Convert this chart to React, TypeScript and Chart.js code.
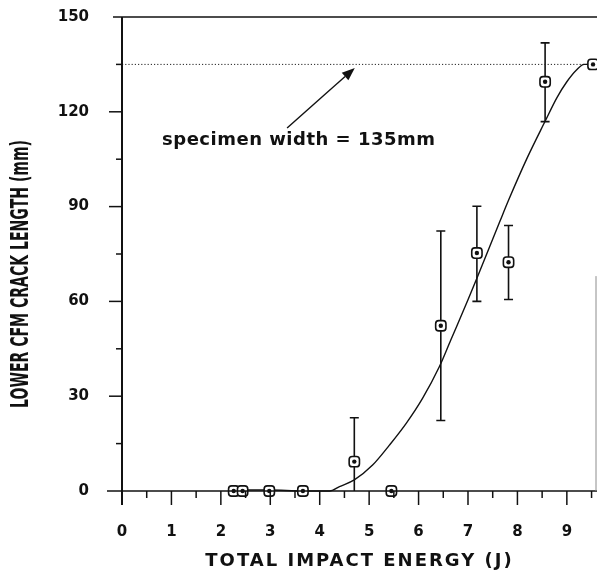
import React, { useEffect, useRef } from 'react';
import { Chart, registerables } from 'chart.js';

Chart.register(...registerables);

// Measured specimens: impact energy (J) and lower CFM crack length (mm)
const energyJ = [2.26, 2.44, 2.98, 3.66, 4.7, 5.45, 6.45, 7.18, 7.82, 8.56, 9.53];
const crackMm = [0, 0, 0, 0, 9.3, 0, 52.3, 75.3, 72.4, 129.5, 135];
// Scatter band (upper / lower limits); null where no band is drawn
const crackHigh = [null, null, null, null, 23.2, null, 82.3, 90.1, 84.0, 141.8, null];
const crackLow = [null, null, null, null, 0, null, 22.3, 60.0, 60.6, 116.9, null];

// Fitted trend curve
const fitEnergyJ = [2.26, 2.44, 2.98, 3.66, 4.2, 4.4, 4.7, 5.07, 5.41, 5.75, 6.08, 6.42, 6.65, 7.0, 7.18, 7.65, 7.82, 8.2, 8.56, 8.8, 9.0, 9.2, 9.35, 9.53];
const fitCrackMm = [0, 0.3, 0.3, 0, 0, 1.4, 3.5, 8.2, 14.5, 21.4, 29.3, 39.3, 47.7, 60.5, 67.3, 85.5, 92, 105.5, 117, 124.5, 129.5, 133.3, 135, 135];

// Specimen width reference line
const specimenWidthMm = 135;

// Axis ranges and tick spacing
const xRange = [0, 9.61];
const yRange = [0, 150];
const xStep = 0.5;
const yStep = 15;
const yLabelEvery = 30;

const X_TITLE = 'TOTAL IMPACT ENERGY (J)';
const Y_TITLE = 'LOWER CFM CRACK LENGTH (mm)';
const NOTE = 'specimen width = 135mm';
// Note and arrow anchors, in axis units
const noteAt = [0.81, 109.5];
const arrowFrom = [3.34, 114.9];
const arrowTo = [4.71, 133.9];

const INK = '#111111';
const FONT = '"DejaVu Sans", "Liberation Sans", sans-serif';

const points = energyJ.map((e, i) => ({ x: e, y: crackMm[i] }));
const fitPoints = fitEnergyJ.map((e, i) => ({ x: e, y: fitCrackMm[i] }));
const widthLine = [
  { x: xRange[0], y: specimenWidthMm },
  { x: xRange[1], y: specimenWidthMm },
];

const framePlugin = {
  id: 'frame',
  beforeDatasetsDraw(chart: any) {
    const { ctx, scales } = chart;
    const xs = scales.x;
    const ys = scales.y;
    ctx.save();
    ctx.strokeStyle = INK;
    ctx.lineWidth = 1.6;
    for (let i = 0; i < energyJ.length; i++) {
      const hi = crackHigh[i];
      const lo = crackLow[i];
      if (hi == null || lo == null) continue;
      const px = xs.getPixelForValue(energyJ[i]);
      const pTop = ys.getPixelForValue(hi);
      const pBot = ys.getPixelForValue(lo);
      ctx.beginPath();
      ctx.moveTo(px, pTop);
      ctx.lineTo(px, pBot);
      ctx.moveTo(px - 4.5, pTop);
      ctx.lineTo(px + 4.5, pTop);
      if (lo > 0) {
        ctx.moveTo(px - 4.5, pBot);
        ctx.lineTo(px + 4.5, pBot);
      }
      ctx.stroke();
    }
    ctx.restore();
  },
  afterDraw(chart: any) {
    const { ctx, chartArea: a, scales, width } = chart;
    const xs = scales.x;
    const ys = scales.y;
    const y0 = ys.getPixelForValue(0);
    const seg = (x1: number, y1: number, x2: number, y2: number) => {
      ctx.beginPath();
      ctx.moveTo(x1, y1);
      ctx.lineTo(x2, y2);
      ctx.stroke();
    };
    ctx.save();
    ctx.strokeStyle = INK;
    ctx.fillStyle = INK;

    // axis lines and top frame
    ctx.lineWidth = 1.6;
    seg(a.left - 15, y0, width, y0);
    seg(a.left - 9, a.top, width, a.top);
    ctx.lineWidth = 2;
    seg(a.left, a.top, a.left, y0 + 14);

    // faint right edge
    ctx.strokeStyle = '#8c8c8c';
    ctx.lineWidth = 1;
    seg(a.right - 1, ys.getPixelForValue(68), a.right - 1, y0);
    ctx.strokeStyle = INK;

    // x tick marks
    ctx.lineWidth = 1.5;
    for (let v = xStep; v <= xRange[1]; v += xStep) {
      const px = xs.getPixelForValue(v);
      const major = Number.isInteger(v);
      seg(px, y0, px, y0 + (major ? 14 : 7));
    }
    // y tick marks
    for (let v = yStep; v < yRange[1]; v += yStep) {
      const py = ys.getPixelForValue(v);
      const major = v % yLabelEvery === 0;
      seg(a.left - (major ? 13 : 6), py, a.left, py);
    }

    // x title
    ctx.save();
    ctx.font = `bold 18px ${FONT}`;
    (ctx as any).letterSpacing = '2px';
    ctx.textAlign = 'center';
    ctx.textBaseline = 'middle';
    ctx.fillText(X_TITLE, (a.left + a.right) / 2, 561.5);
    ctx.restore();

    // y title, condensed
    ctx.save();
    ctx.translate(22, 274);
    ctx.rotate(-Math.PI / 2);
    ctx.font = `bold 24px ${FONT}`;
    ctx.textAlign = 'center';
    ctx.textBaseline = 'middle';
    const w = ctx.measureText(Y_TITLE).width;
    ctx.scale(268 / w, 1);
    ctx.fillText(Y_TITLE, 0, 0);
    ctx.restore();

    // note text
    ctx.save();
    ctx.font = `bold 18px ${FONT}`;
    (ctx as any).letterSpacing = '0.5px';
    ctx.textAlign = 'left';
    ctx.textBaseline = 'alphabetic';
    ctx.fillText(NOTE, xs.getPixelForValue(noteAt[0]), ys.getPixelForValue(noteAt[1]));
    ctx.restore();

    // arrow to the width line
    const ax1 = xs.getPixelForValue(arrowFrom[0]);
    const ay1 = ys.getPixelForValue(arrowFrom[1]);
    const ax2 = xs.getPixelForValue(arrowTo[0]);
    const ay2 = ys.getPixelForValue(arrowTo[1]);
    const ang = Math.atan2(ay2 - ay1, ax2 - ax1);
    const headLen = 13;
    const headHalf = 5;
    const bx = ax2 - headLen * Math.cos(ang);
    const by = ay2 - headLen * Math.sin(ang);
    ctx.lineWidth = 1.4;
    seg(ax1, ay1, bx, by);
    ctx.beginPath();
    ctx.moveTo(ax2, ay2);
    ctx.lineTo(bx + headHalf * Math.sin(ang), by - headHalf * Math.cos(ang));
    ctx.lineTo(bx - headHalf * Math.sin(ang), by + headHalf * Math.cos(ang));
    ctx.closePath();
    ctx.fill();

    ctx.restore();
  },
};

export default function App() {
  const canvasRef = useRef<HTMLCanvasElement>(null);

  useEffect(() => {
    const canvas = canvasRef.current;
    if (!canvas) return;
    const chart = new Chart(canvas, {
      type: 'scatter',
      data: {
        datasets: [
          {
            label: 'centres',
            data: points,
            pointStyle: 'circle',
            pointRadius: 2.2,
            backgroundColor: INK,
            borderWidth: 0,
            clip: false,
            order: 0,
          },
          {
            label: 'markers',
            data: points,
            pointStyle: 'rectRounded',
            pointRadius: 6,
            backgroundColor: '#ffffff',
            borderColor: INK,
            borderWidth: 1.6,
            clip: false,
            order: 1,
          },
          {
            type: 'line',
            label: 'fit',
            data: fitPoints,
            borderColor: INK,
            borderWidth: 1.4,
            pointRadius: 0,
            cubicInterpolationMode: 'monotone',
            fill: false,
            clip: false,
            order: 2,
          },
          {
            type: 'line',
            label: 'specimen width',
            data: widthLine,
            borderColor: '#222222',
            borderWidth: 1,
            borderDash: [1.2, 2],
            pointRadius: 0,
            fill: false,
            order: 3,
          },
        ],
      } as any,
      options: {
        animation: false,
        responsive: false,
        devicePixelRatio: 1,
        events: [],
        layout: { padding: { top: 17, right: 0, left: 0, bottom: 0 }, autoPadding: false },
        plugins: {
          legend: { display: false },
          tooltip: { enabled: false },
        },
        scales: {
          x: {
            type: 'linear',
            min: xRange[0],
            max: xRange[1],
            grid: { display: false, drawTicks: true, tickLength: 32 },
            border: { display: false },
            ticks: {
              stepSize: xStep,
              includeBounds: false,
              autoSkip: false,
              maxRotation: 0,
              padding: 0,
              color: INK,
              font: { family: FONT, weight: 'bold', size: 15 },
              callback: (v: any) => (Number.isInteger(v) ? String(v) : ''),
            },
            afterFit: (s: any) => {
              s.height = 85;
            },
          },
          y: {
            type: 'linear',
            min: yRange[0],
            max: yRange[1],
            grid: { display: false, drawTicks: true, tickLength: 33 },
            border: { display: false },
            ticks: {
              stepSize: yStep,
              autoSkip: false,
              padding: 0,
              color: INK,
              font: { family: FONT, weight: 'bold', size: 15 },
              callback: (v: any) => (v % yLabelEvery === 0 ? String(v) : ''),
            },
            afterFit: (s: any) => {
              s.width = 122;
            },
          },
        },
      } as any,
      plugins: [framePlugin],
    });
    return () => chart.destroy();
  }, []);

  return (
    <div style={{ position: 'fixed', left: 0, top: 0, width: 597, height: 576, background: '#ffffff' }}>
      <canvas ref={canvasRef} width={597} height={576} style={{ display: 'block' }} />
    </div>
  );
}
